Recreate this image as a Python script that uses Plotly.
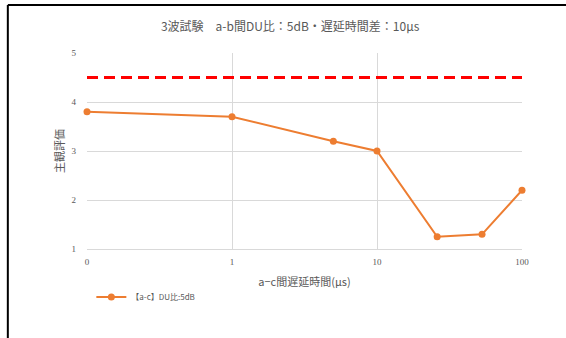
import plotly.graph_objects as go

# Data
delay_us = [0.1, 1, 5, 10, 26, 53, 100]
score = [3.8, 3.7, 3.2, 3.0, 1.25, 1.3, 2.2]
threshold_x = [0.1, 100]
threshold_y = [4.5, 4.5]
x_tickvals = [0.1, 1, 10, 100]
x_ticktext = ["0", "1", "10", "100"]
y_tickvals = [1, 2, 3, 4, 5]

series_name = "【a-c】DU比:5dB"
title = "3波試験　a-b間DU比：5dB・遅延時間差：10μs"
x_title = "a−c間遅延時間(μs)"
y_title = "主観評価"

JP = "Noto Sans CJK JP"
GRAY = "#595959"
ORANGE = "#ED7D31"

fig = go.Figure()
fig.add_trace(go.Scatter(
    x=threshold_x, y=threshold_y, mode="lines",
    line=dict(color="#FF0000", width=3, dash="11px,6px"),
    showlegend=False, hoverinfo="skip",
))
fig.add_trace(go.Scatter(
    x=delay_us, y=score, mode="lines+markers", name=series_name,
    line=dict(color=ORANGE, width=2),
    marker=dict(color=ORANGE, size=7, symbol="circle"),
    cliponaxis=False,
))

# outer frame lines (top and left)
fig.add_shape(type="line", xref="paper", yref="paper",
              x0=-0.182, x1=1.11, y0=1.2449, y1=1.2449,
              line=dict(color="black", width=2))
fig.add_shape(type="line", xref="paper", yref="paper",
              x0=-0.182, x1=-0.182, y0=1.2449, y1=-0.46,
              line=dict(color="black", width=2))

fig.update_layout(
    width=566, height=338,
    margin=dict(l=87, r=44, t=53, b=89),
    paper_bgcolor="white", plot_bgcolor="white",
    title=dict(text=title, x=0.467, xanchor="center", y=0.92, yanchor="middle",
               xref="paper",
               font=dict(family=JP, size=12, color=GRAY)),
    font=dict(family=JP, color=GRAY),
    showlegend=True,
    legend=dict(x=0.01, y=-0.245, xanchor="left", yanchor="middle",
                orientation="h", bgcolor="rgba(0,0,0,0)",
                font=dict(family=JP, size=8, color=GRAY),
                itemwidth=30),
    xaxis=dict(
        type="log", range=[-1, 2],
        tickvals=x_tickvals, ticktext=x_ticktext,
        showgrid=True, gridcolor="#D9D9D9", gridwidth=1,
        showline=True, linecolor="#D9D9D9", linewidth=1,
        zeroline=False, ticks="", ticklabelstandoff=4,
        tickfont=dict(family="Liberation Serif", size=9, color=GRAY),
        title=dict(text=x_title, font=dict(family=JP, size=11, color=GRAY),
                   standoff=12),
    ),
    yaxis=dict(
        range=[1, 5], tickvals=y_tickvals,
        showgrid=True, gridcolor="#D9D9D9", gridwidth=1,
        showline=False, zeroline=False, ticks="", ticklabelstandoff=10,
        tickfont=dict(family="Liberation Serif", size=9, color=GRAY),
        title=dict(text=y_title, font=dict(family=JP, size=11, color=GRAY),
                   standoff=4),
    ),
)

fig.write_html("out.html", config={"displayModeBar": False},
               post_script="document.body.style.margin='0';")
